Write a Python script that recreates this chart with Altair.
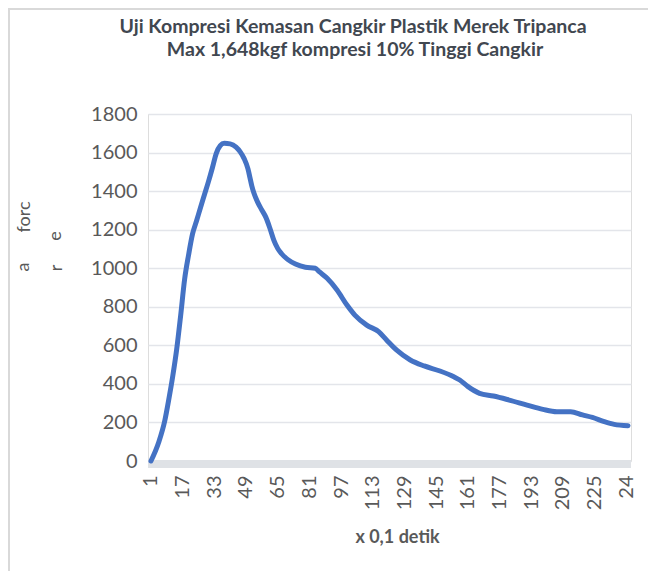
import altair as alt
import pandas as pd

# Data
idx = [1, 5, 8, 10, 12, 14, 16, 18, 20, 22,
       24, 26, 28, 30, 32, 34, 36, 38, 41, 44,
       46, 48, 50, 51, 52, 53, 55, 57, 59, 61,
       63, 65, 67, 70, 74, 79, 84, 86, 90, 95,
       100, 104, 110, 116, 120, 125, 132, 139, 147, 154,
       157, 161, 167, 174, 182, 191, 199, 206, 213, 219,
       224, 230, 235, 242]
force = [0, 100, 210, 319, 440, 580, 755, 943, 1069, 1178,
         1245, 1314, 1381, 1448, 1520, 1596, 1636, 1648, 1645, 1628,
         1605, 1570, 1515, 1470, 1425, 1390, 1340, 1302, 1265, 1210,
         1147, 1103, 1075, 1046, 1022, 1005, 1000, 982, 948, 887,
         809, 757, 705, 671, 628, 576, 524, 493, 467, 437,
         420, 387, 351, 337, 316, 290, 268, 256, 256, 239,
         226, 204, 190, 183]
x_label_values = list(range(1, 242, 16))
y_values = list(range(0, 1801, 200))
title_lines = ["Uji Kompresi Kemasan Cangkir Plastik Merek Tripanca",
               "Max 1,648kgf kompresi 10% Tinggi Cangkir"]
x_title = "x 0,1 detik"
y_fragments = ["forc", "e", "a", "r"]

FONT = "Lato"
TXT = "#595959"
W, H = 483, 347

df = pd.DataFrame({"i": idx, "force": force})
one = pd.DataFrame({"k": [0]})

label_expr = "datum.value == 241 ? '24' : toString(datum.value)"

line = alt.Chart(df).mark_line(
    color="#4472c4", strokeWidth=5, strokeCap="round", strokeJoin="round",
    interpolate="monotone"
).encode(
    x=alt.X("i:Q", scale=alt.Scale(domain=[-0.5, 243.5], nice=False, zero=False),
            axis=alt.Axis(values=x_label_values, labelExpr=label_expr, labelAngle=270,
                          labelAlign="right", labelBaseline="middle", labelOverlap=False,
                          labelBound=False, labelFlush=False,
                          labelFont=FONT, labelFontSize=20, labelColor=TXT, labelPadding=14,
                          ticks=False, domain=False, grid=False,
                          title=x_title, titleFont=FONT, titleFontSize=18,
                          titleFontWeight="bold", titleColor=TXT,
                          titleX=249, titleY=76, titleBaseline="middle")),
    y=alt.Y("force:Q", scale=alt.Scale(domain=[0, 1800], nice=False),
            axis=alt.Axis(values=y_values, format="d", labelFont=FONT, labelFontSize=20,
                          labelColor=TXT, labelPadding=11, ticks=False, domain=False,
                          grid=True, gridColor="#e3e5ea", gridWidth=1.5, title=None))
)

frame = alt.Chart(one).mark_rect(filled=False, stroke="#d9d9d9", strokeWidth=2).encode(
    x=alt.value(-139), x2=alt.value(560), y=alt.value(-105), y2=alt.value(520)
)

band = alt.Chart(one).mark_rect(color="#dfe2e6").encode(
    x=alt.value(0), x2=alt.value(W), y=alt.value(H - 1), y2=alt.value(H + 7)
)

frag_pos = [(-123, 103), (-92, 122), (-124, 153), (-91, 154)]
frags = []
for t, (px, py) in zip(y_fragments, frag_pos):
    frags.append(alt.Chart(one).mark_text(
        text=t, angle=270, align="center", baseline="middle",
        font=FONT, fontSize=18, color=TXT
    ).encode(x=alt.value(px), y=alt.value(py)))

title_pos = [(205, -87), (207, -64)]
titles = []
for t, (px, py) in zip(title_lines, title_pos):
    titles.append(alt.Chart(one).mark_text(
        text=t, align="center", baseline="middle", font=FONT, fontSize=19.5,
        fontWeight="bold", color="#414750"
    ).encode(x=alt.value(px), y=alt.value(py)))

chart = alt.layer(frame, band, line, *frags, *titles).properties(
    width=W, height=H,
    autosize=alt.AutoSizeParams(type="none"),
    padding={"left": 140, "top": 106, "right": 17, "bottom": 110},
).configure_view(stroke=None).configure(background="white")

chart.save("out.html", embed_options={"renderer": "svg", "actions": False})
